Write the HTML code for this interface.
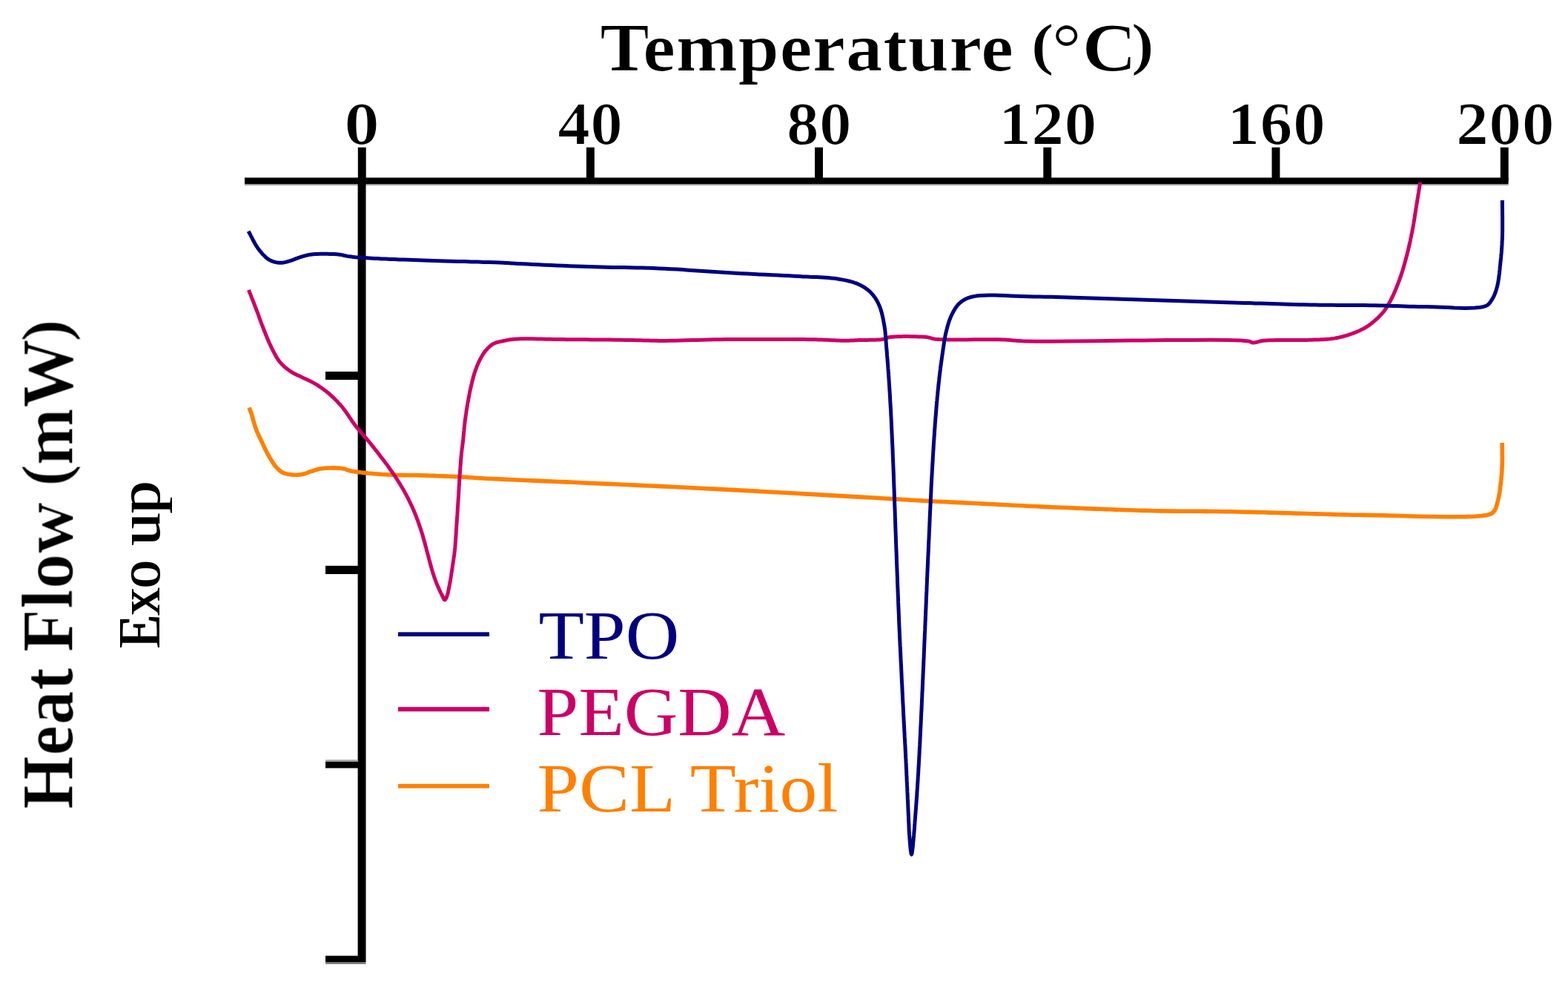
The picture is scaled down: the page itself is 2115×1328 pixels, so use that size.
<!DOCTYPE html>
<html><head><meta charset="utf-8"><title>DSC Heat Flow</title>
<style>
html,body{margin:0;padding:0;background:#fff;}
svg{display:block;}
text{font-family:"Liberation Serif", "Times New Roman", serif;}
</style></head>
<body>
<svg width="2115" height="1328" viewBox="0 0 2115 1328">
<defs><filter id="thin" x="-5%" y="-5%" width="110%" height="110%" color-interpolation-filters="sRGB"><feMorphology operator="erode" radius="1 0"/></filter><filter id="fat1" x="-5%" y="-5%" width="110%" height="110%"><feMorphology operator="dilate" radius="1 0"/></filter></defs>
<rect width="2115" height="1328" fill="#fff"/>
<text y="95" font-size="92" font-weight="bold" filter="url(#thin)"><tspan x="809" textLength="558.5" lengthAdjust="spacingAndGlyphs">Temperature</tspan> <tspan x="1390.2" y="86" font-size="78" textLength="31.8" lengthAdjust="spacingAndGlyphs">(</tspan><tspan x="1418.2" y="95" textLength="115.2" lengthAdjust="spacingAndGlyphs">°C</tspan><tspan x="1525.5" y="86" font-size="78" textLength="31.7" lengthAdjust="spacingAndGlyphs">)</tspan></text>
<g font-size="80" font-weight="bold" filter="url(#thin)">
<text x="488.1" y="194" text-anchor="middle" textLength="48.0" lengthAdjust="spacingAndGlyphs">0</text>
<text x="796.0" y="194" text-anchor="middle" textLength="88.2" lengthAdjust="spacingAndGlyphs">40</text>
<text x="1104.8" y="194" text-anchor="middle" textLength="88.2" lengthAdjust="spacingAndGlyphs">80</text>
<text x="1413.2" y="194" text-anchor="middle" textLength="133.1" lengthAdjust="spacingAndGlyphs">120</text>
<text x="1721.5" y="194" text-anchor="middle" textLength="133.1" lengthAdjust="spacingAndGlyphs">160</text>
<text x="2030.3" y="194" text-anchor="middle" textLength="133.1" lengthAdjust="spacingAndGlyphs">200</text>
</g>
<g>
<rect x="330" y="248" width="1704.6" height="2" fill="#9e9e9e"/>
<rect x="330" y="239.5" width="1704.6" height="8.5" fill="#000"/>
<rect x="482.8" y="198.7" width="10.9" height="45" fill="#000"/>
<rect x="790.9" y="198.7" width="10.9" height="45" fill="#000"/>
<rect x="1099.1" y="198.7" width="10.9" height="45" fill="#000"/>
<rect x="1407.3" y="198.7" width="10.9" height="45" fill="#000"/>
<rect x="1715.5" y="198.7" width="10.9" height="45" fill="#000"/>
<rect x="2023.8" y="198.7" width="10.9" height="45" fill="#000"/>
<rect x="482.6" y="239.5" width="10.9" height="1057.5" fill="#000"/>
<rect x="439" y="1024.3" width="44" height="2.7" fill="#a3a3a3"/>
<rect x="439" y="1297" width="54.5" height="2.8" fill="#777"/>
<rect x="439" y="501.0" width="50" height="11.0" fill="#000"/>
<rect x="439" y="762.8" width="50" height="11.2" fill="#000"/>
<rect x="439" y="1027.0" width="50" height="8.6" fill="#000"/>
<rect x="439" y="1288.6" width="50" height="8.4" fill="#000"/>
</g>
<text transform="translate(97.3 1090.5) rotate(-90)" y="0" font-size="97" font-weight="bold" filter="url(#thin)"><tspan x="-0.8" textLength="191.2" lengthAdjust="spacingAndGlyphs">Heat</tspan> <tspan x="210.9" textLength="202.7" lengthAdjust="spacingAndGlyphs">Flow</tspan> <tspan x="434.6" y="-7" font-size="88.2" textLength="30.3" lengthAdjust="spacingAndGlyphs">(</tspan><tspan x="463.1" y="0" textLength="170.1" lengthAdjust="spacingAndGlyphs">mW</tspan><tspan x="629.5" y="-7" font-size="88.2" textLength="30.8" lengthAdjust="spacingAndGlyphs">)</tspan></text>
<text transform="translate(215 876) rotate(-90)" y="0" font-size="80" filter="url(#fat1)"><tspan x="2.0" textLength="118.3" lengthAdjust="spacingAndGlyphs">Exo</tspan> <tspan x="140.9" textLength="86.2" lengthAdjust="spacingAndGlyphs">up</tspan></text>
<g fill="none" stroke-linejoin="round" stroke-linecap="butt">
<path d="M336.1 549.5 L336.4 550.3 L336.7 551.0 L336.9 551.8 L337.2 552.5 L337.5 553.2 L337.8 554.0 L338.0 554.7 L338.3 555.5 L338.6 556.3 L338.9 557.1 L339.2 558.0 L339.5 558.9 L339.9 560.2 L340.3 561.7 L340.8 563.2 L341.2 564.7 L341.6 566.3 L342.1 568.0 L342.5 569.6 L343.0 571.3 L343.5 573.0 L344.0 574.6 L344.5 576.2 L345.1 577.8 L345.7 579.4 L346.3 581.0 L347.0 582.6 L347.7 584.1 L348.4 585.7 L349.1 587.3 L349.9 588.9 L350.6 590.4 L351.3 592.0 L352.1 593.6 L352.9 595.1 L353.6 596.7 L354.4 598.3 L355.1 599.9 L355.9 601.5 L356.7 603.2 L357.4 604.8 L358.2 606.4 L359.0 608.0 L359.8 609.6 L360.6 611.2 L361.4 612.7 L362.3 614.2 L363.1 615.7 L363.9 617.0 L364.6 618.3 L365.4 619.5 L366.1 620.8 L366.9 622.0 L367.7 623.3 L368.5 624.5 L369.3 625.6 L370.1 626.7 L370.9 627.8 L371.7 628.8 L372.6 629.8 L373.3 630.6 L374.1 631.3 L374.8 632.1 L375.5 632.8 L376.3 633.5 L377.0 634.1 L377.8 634.8 L378.6 635.4 L379.4 635.9 L380.2 636.5 L381.1 636.9 L382.0 637.4 L383.0 637.8 L384.1 638.2 L385.3 638.6 L386.5 638.9 L387.7 639.2 L388.9 639.4 L390.1 639.6 L391.4 639.8 L392.6 639.9 L393.8 640.0 L395.0 640.1 L396.2 640.2 L397.3 640.3 L398.3 640.3 L399.3 640.3 L400.4 640.3 L401.4 640.2 L402.4 640.1 L403.5 640.1 L404.5 639.9 L405.5 639.8 L406.5 639.7 L407.5 639.5 L408.5 639.3 L409.5 639.1 L410.4 638.8 L411.3 638.5 L412.3 638.2 L413.2 637.9 L414.1 637.6 L415.0 637.2 L416.0 636.8 L416.9 636.5 L417.8 636.1 L418.8 635.8 L419.8 635.5 L420.9 635.2 L422.0 634.8 L423.1 634.4 L424.2 634.1 L425.3 633.7 L426.5 633.4 L427.6 633.0 L428.8 632.7 L430.0 632.4 L431.3 632.1 L432.6 631.9 L434.0 631.7 L436.1 631.5 L438.3 631.3 L440.8 631.1 L443.3 631.0 L445.9 631.0 L448.5 630.9 L451.2 630.9 L453.7 631.0 L456.2 631.1 L458.5 631.3 L460.5 631.5 L462.4 631.7 L463.4 631.9 L464.2 632.1 L465.0 632.3 L465.8 632.5 L466.5 632.8 L467.2 633.1 L467.9 633.3 L468.6 633.6 L469.3 633.9 L470.1 634.1 L470.9 634.4 L471.8 634.6 L473.1 634.9 L474.5 635.2 L475.9 635.4 L477.4 635.7 L478.9 635.9 L480.5 636.1 L482.1 636.4 L483.7 636.6 L485.4 636.8 L487.2 637.0 L489.0 637.2 L490.8 637.4 L493.5 637.7 L496.3 638.0 L499.3 638.2 L502.4 638.5 L505.5 638.8 L508.7 639.0 L512.0 639.2 L515.3 639.5 L518.7 639.7 L522.0 639.9 L525.3 640.0 L528.6 640.2 L532.0 640.3 L535.5 640.5 L539.0 640.5 L542.5 640.6 L546.0 640.6 L549.5 640.7 L553.0 640.7 L556.6 640.7 L560.2 640.8 L563.8 640.8 L567.5 640.9 L571.2 641.0 L575.4 641.1 L579.7 641.3 L584.1 641.4 L588.5 641.6 L593.0 641.7 L597.5 641.9 L602.0 642.1 L606.4 642.3 L610.7 642.4 L614.8 642.6 L618.8 642.8 L622.5 643.0 L625.0 643.1 L627.4 643.3 L629.5 643.4 L631.6 643.6 L633.6 643.7 L635.6 643.9 L637.6 644.0 L639.8 644.2 L642.0 644.3 L644.4 644.5 L647.1 644.6 L650.0 644.8 L656.8 645.2 L664.4 645.5 L672.9 645.9 L682.1 646.4 L691.8 646.8 L701.9 647.2 L712.3 647.7 L722.8 648.1 L733.3 648.6 L743.7 649.0 L753.8 649.5 L763.5 649.9 L773.0 650.3 L782.4 650.7 L791.9 651.2 L801.3 651.6 L810.8 652.0 L820.3 652.4 L829.7 652.8 L839.2 653.3 L848.6 653.7 L858.1 654.1 L867.5 654.6 L877.0 655.0 L886.5 655.4 L895.9 655.9 L905.4 656.3 L914.8 656.8 L924.3 657.3 L933.7 657.7 L943.2 658.2 L952.6 658.7 L962.0 659.1 L971.5 659.6 L980.9 660.1 L990.4 660.6 L999.9 661.1 L1009.4 661.6 L1019.0 662.1 L1028.5 662.7 L1038.1 663.2 L1047.6 663.7 L1057.1 664.3 L1066.6 664.8 L1076.1 665.3 L1085.4 665.9 L1094.7 666.4 L1103.9 666.9 L1112.5 667.4 L1121.3 667.9 L1130.1 668.4 L1138.9 668.9 L1147.6 669.4 L1156.3 669.9 L1164.8 670.4 L1173.1 670.8 L1181.1 671.3 L1188.9 671.8 L1196.2 672.2 L1203.2 672.6 L1207.7 672.9 L1211.9 673.1 L1215.9 673.4 L1219.7 673.6 L1223.5 673.8 L1227.1 674.1 L1230.7 674.3 L1234.4 674.5 L1238.1 674.7 L1241.9 674.9 L1245.8 675.2 L1250.0 675.4 L1255.3 675.7 L1260.7 676.0 L1266.3 676.2 L1271.9 676.5 L1277.7 676.8 L1283.6 677.1 L1289.5 677.4 L1295.4 677.6 L1301.4 677.9 L1307.4 678.2 L1313.4 678.5 L1319.4 678.8 L1325.8 679.1 L1332.3 679.5 L1338.9 679.8 L1345.5 680.1 L1352.1 680.5 L1358.8 680.8 L1365.5 681.2 L1372.2 681.5 L1378.9 681.8 L1385.6 682.2 L1392.3 682.5 L1398.9 682.8 L1405.5 683.1 L1412.1 683.4 L1418.8 683.7 L1425.4 684.0 L1432.0 684.3 L1438.6 684.5 L1445.2 684.8 L1451.8 685.1 L1458.4 685.3 L1465.1 685.6 L1471.7 685.9 L1478.3 686.1 L1484.9 686.3 L1491.4 686.6 L1497.9 686.8 L1504.4 687.1 L1510.9 687.3 L1517.4 687.5 L1523.9 687.8 L1530.5 688.0 L1537.1 688.2 L1543.9 688.4 L1550.7 688.5 L1557.7 688.7 L1565.8 688.9 L1574.0 689.0 L1582.4 689.1 L1590.8 689.2 L1599.4 689.2 L1608.0 689.3 L1616.7 689.3 L1625.4 689.4 L1634.1 689.5 L1642.8 689.5 L1651.4 689.7 L1660.0 689.8 L1668.6 690.0 L1677.4 690.2 L1686.2 690.4 L1695.0 690.6 L1703.9 690.8 L1712.7 691.1 L1721.4 691.3 L1730.1 691.6 L1738.7 691.8 L1747.1 692.1 L1755.3 692.3 L1763.4 692.5 L1770.0 692.7 L1776.4 692.9 L1782.5 693.0 L1788.4 693.2 L1794.3 693.4 L1800.1 693.6 L1806.1 693.7 L1812.1 693.9 L1818.4 694.0 L1824.9 694.2 L1831.8 694.3 L1839.1 694.4 L1851.4 694.6 L1865.5 694.9 L1881.0 695.3 L1897.4 695.8 L1914.3 696.2 L1931.1 696.5 L1947.5 696.7 L1962.9 696.7 L1976.9 696.6 L1988.9 696.2 L1998.6 695.5 L2005.5 694.4 L2006.8 694.1 L2007.9 693.8 L2008.9 693.5 L2009.8 693.2 L2010.6 692.9 L2011.3 692.6 L2011.9 692.2 L2012.6 691.8 L2013.2 691.4 L2013.7 690.9 L2014.3 690.3 L2014.9 689.7 L2015.6 688.8 L2016.3 687.8 L2016.8 686.7 L2017.4 685.5 L2017.9 684.3 L2018.3 683.0 L2018.7 681.6 L2019.1 680.2 L2019.5 678.8 L2019.9 677.4 L2020.2 675.9 L2020.6 674.5 L2021.0 672.8 L2021.4 671.0 L2021.8 669.2 L2022.1 667.3 L2022.5 665.4 L2022.8 663.5 L2023.1 661.6 L2023.3 659.6 L2023.6 657.7 L2023.8 655.7 L2024.1 653.7 L2024.3 651.8 L2024.5 649.8 L2024.8 647.8 L2025.0 645.8 L2025.1 643.8 L2025.3 641.8 L2025.5 639.8 L2025.6 637.7 L2025.8 635.7 L2025.9 633.6 L2026.0 631.5 L2026.1 629.4 L2026.2 627.3 L2026.3 624.9 L2026.3 622.4 L2026.4 620.0 L2026.4 617.4 L2026.4 614.9 L2026.3 612.4 L2026.3 609.8 L2026.3 607.2 L2026.3 604.7 L2026.2 602.1 L2026.2 599.5 L2026.2 597.0" stroke="#ff8000" stroke-width="5.6"/>
<path d="M335.4 390.8 L336.2 392.9 L337.0 395.0 L337.9 397.1 L338.7 399.2 L339.5 401.3 L340.3 403.3 L341.2 405.4 L342.0 407.5 L342.8 409.7 L343.6 411.8 L344.5 413.9 L345.3 416.1 L346.2 418.4 L347.1 420.8 L348.0 423.2 L348.9 425.7 L349.7 428.1 L350.6 430.6 L351.5 433.0 L352.4 435.5 L353.3 437.9 L354.3 440.3 L355.2 442.7 L356.1 445.0 L357.0 447.2 L357.9 449.4 L358.7 451.6 L359.6 453.8 L360.5 455.9 L361.4 458.1 L362.3 460.2 L363.2 462.3 L364.2 464.4 L365.1 466.4 L366.0 468.4 L367.0 470.3 L367.8 472.0 L368.7 473.6 L369.5 475.2 L370.3 476.8 L371.2 478.4 L372.0 479.9 L372.9 481.4 L373.8 482.9 L374.8 484.3 L375.7 485.7 L376.7 487.1 L377.8 488.4 L378.9 489.6 L380.0 490.8 L381.1 492.0 L382.3 493.1 L383.5 494.2 L384.7 495.3 L386.0 496.3 L387.2 497.3 L388.5 498.3 L389.8 499.2 L391.0 500.1 L392.3 501.0 L393.5 501.7 L394.6 502.4 L395.8 503.1 L397.0 503.7 L398.1 504.3 L399.3 504.9 L400.5 505.4 L401.7 506.0 L403.0 506.5 L404.2 507.1 L405.4 507.7 L406.7 508.3 L408.1 509.0 L409.6 509.7 L411.1 510.4 L412.6 511.1 L414.1 511.8 L415.7 512.6 L417.2 513.3 L418.7 514.0 L420.3 514.8 L421.8 515.6 L423.3 516.4 L424.8 517.3 L426.3 518.2 L427.9 519.2 L429.4 520.1 L430.9 521.1 L432.5 522.2 L434.0 523.2 L435.5 524.3 L437.0 525.4 L438.5 526.5 L440.0 527.6 L441.4 528.8 L442.9 530.0 L444.5 531.3 L446.0 532.7 L447.5 534.1 L449.1 535.5 L450.6 536.9 L452.1 538.4 L453.6 539.9 L455.1 541.5 L456.5 543.1 L458.0 544.7 L459.5 546.3 L460.9 548.0 L462.5 549.9 L464.0 551.9 L465.6 554.0 L467.1 556.2 L468.6 558.3 L470.1 560.5 L471.5 562.7 L473.0 564.9 L474.5 567.1 L476.0 569.2 L477.5 571.3 L479.0 573.3 L480.4 575.1 L481.8 576.8 L483.2 578.5 L484.7 580.2 L486.1 581.9 L487.5 583.5 L488.9 585.2 L490.3 586.8 L491.7 588.4 L493.1 590.0 L494.5 591.6 L495.8 593.2 L497.0 594.6 L498.1 596.1 L499.3 597.4 L500.4 598.8 L501.5 600.2 L502.6 601.6 L503.7 602.9 L504.8 604.3 L505.9 605.7 L507.0 607.1 L508.2 608.5 L509.3 610.0 L510.5 611.6 L511.8 613.2 L513.1 614.9 L514.3 616.5 L515.6 618.2 L516.9 619.9 L518.2 621.5 L519.4 623.2 L520.7 624.9 L522.0 626.6 L523.2 628.3 L524.4 630.0 L525.6 631.7 L526.7 633.3 L527.9 635.0 L529.1 636.6 L530.2 638.3 L531.3 639.9 L532.5 641.6 L533.6 643.3 L534.7 645.0 L535.8 646.6 L536.8 648.3 L537.9 650.0 L538.9 651.6 L539.9 653.3 L540.9 655.0 L541.9 656.6 L542.9 658.3 L543.9 659.9 L544.8 661.6 L545.8 663.3 L546.7 665.0 L547.6 666.6 L548.5 668.3 L549.4 670.0 L550.3 671.7 L551.1 673.3 L551.9 675.0 L552.7 676.6 L553.5 678.3 L554.3 680.0 L555.1 681.6 L555.9 683.3 L556.6 685.0 L557.4 686.6 L558.1 688.3 L558.8 690.0 L559.5 691.7 L560.2 693.3 L560.8 695.0 L561.5 696.6 L562.1 698.3 L562.7 700.0 L563.4 701.6 L564.0 703.3 L564.6 705.0 L565.1 706.7 L565.7 708.3 L566.3 710.0 L566.9 711.7 L567.4 713.3 L567.9 715.0 L568.5 716.6 L569.0 718.3 L569.5 720.0 L570.0 721.6 L570.5 723.3 L571.0 725.0 L571.4 726.7 L571.9 728.3 L572.4 730.0 L572.9 731.7 L573.3 733.3 L573.8 735.0 L574.2 736.7 L574.7 738.3 L575.1 740.0 L575.5 741.7 L575.9 743.3 L576.4 745.0 L576.8 746.7 L577.3 748.3 L577.7 750.0 L578.2 751.7 L578.6 753.4 L579.1 755.1 L579.5 756.8 L580.0 758.5 L580.4 760.2 L580.9 761.9 L581.3 763.6 L581.8 765.2 L582.3 766.8 L582.7 768.4 L583.2 770.0 L583.6 771.3 L584.0 772.7 L584.4 774.0 L584.9 775.2 L585.3 776.5 L585.7 777.8 L586.1 779.0 L586.5 780.2 L587.0 781.4 L587.4 782.6 L587.9 783.8 L588.3 785.0 L588.7 786.1 L589.1 787.1 L589.6 788.2 L590.0 789.2 L590.5 790.3 L590.9 791.3 L591.4 792.3 L591.8 793.3 L592.2 794.3 L592.7 795.2 L593.1 796.1 L593.5 797.0 L593.8 797.7 L594.1 798.3 L594.4 798.9 L594.7 799.5 L595.0 800.1 L595.3 800.7 L595.6 801.3 L595.9 801.8 L596.1 802.4 L596.4 802.9 L596.7 803.5 L597.0 804.0 L597.2 804.5 L597.5 805.0 L597.7 805.5 L597.9 806.0 L598.2 806.6 L598.4 807.1 L598.6 807.5 L598.9 807.9 L599.1 808.3 L599.3 808.6 L599.6 808.7 L599.8 808.8 L600.0 808.7 L600.3 808.6 L600.6 808.4 L600.8 808.0 L601.1 807.6 L601.3 807.2 L601.6 806.7 L601.8 806.2 L602.1 805.6 L602.3 805.1 L602.6 804.5 L602.8 804.0 L603.1 803.1 L603.4 802.2 L603.7 801.2 L604.0 800.2 L604.3 799.1 L604.5 798.0 L604.8 796.8 L605.0 795.6 L605.3 794.3 L605.5 793.1 L605.7 791.8 L606.0 790.5 L606.4 788.7 L606.7 786.8 L607.1 784.8 L607.4 782.8 L607.8 780.7 L608.1 778.5 L608.5 776.4 L608.8 774.2 L609.1 772.0 L609.5 769.8 L609.8 767.7 L610.1 765.6 L610.4 763.5 L610.7 761.5 L611.0 759.5 L611.3 757.5 L611.6 755.5 L611.9 753.4 L612.2 751.4 L612.5 749.3 L612.8 747.3 L613.0 745.1 L613.3 743.0 L613.5 740.8 L613.8 738.2 L614.0 735.6 L614.2 732.9 L614.4 730.2 L614.6 727.5 L614.8 724.7 L615.0 721.9 L615.2 719.1 L615.3 716.3 L615.5 713.4 L615.7 710.6 L615.9 707.7 L616.1 704.6 L616.3 701.4 L616.5 698.2 L616.8 695.0 L617.0 691.7 L617.2 688.5 L617.4 685.2 L617.6 682.0 L617.8 678.8 L618.0 675.7 L618.2 672.6 L618.4 669.6 L618.6 667.1 L618.7 664.7 L618.8 662.3 L619.0 659.9 L619.1 657.6 L619.2 655.3 L619.4 653.0 L619.5 650.8 L619.6 648.5 L619.8 646.1 L619.9 643.8 L620.1 641.4 L620.3 638.8 L620.5 636.1 L620.7 633.3 L620.9 630.6 L621.1 627.8 L621.3 625.0 L621.5 622.2 L621.7 619.5 L621.9 616.9 L622.2 614.4 L622.4 612.1 L622.6 609.9 L622.7 608.6 L622.9 607.3 L623.0 606.1 L623.2 605.0 L623.3 603.9 L623.5 602.8 L623.6 601.8 L623.8 600.7 L623.9 599.6 L624.1 598.4 L624.2 597.2 L624.4 595.9 L624.6 594.0 L624.8 591.9 L625.0 589.7 L625.2 587.5 L625.4 585.2 L625.6 582.9 L625.9 580.5 L626.1 578.2 L626.3 575.8 L626.6 573.4 L626.8 571.1 L627.1 568.8 L627.4 566.5 L627.7 564.3 L628.0 562.0 L628.3 559.7 L628.7 557.4 L629.0 555.1 L629.3 552.8 L629.7 550.6 L630.1 548.3 L630.4 546.1 L630.8 543.9 L631.2 541.7 L631.6 539.7 L631.9 537.7 L632.3 535.7 L632.7 533.7 L633.1 531.8 L633.4 529.8 L633.8 527.9 L634.2 526.0 L634.6 524.1 L635.1 522.2 L635.5 520.4 L635.9 518.6 L636.3 517.0 L636.6 515.5 L637.0 514.0 L637.4 512.5 L637.8 511.0 L638.2 509.5 L638.5 508.1 L638.9 506.6 L639.4 505.2 L639.8 503.8 L640.2 502.4 L640.7 501.0 L641.1 499.7 L641.6 498.4 L642.1 497.1 L642.6 495.8 L643.0 494.6 L643.5 493.3 L644.1 492.1 L644.6 490.9 L645.1 489.6 L645.7 488.4 L646.2 487.3 L646.8 486.1 L647.4 485.0 L647.9 483.9 L648.5 482.9 L649.0 481.8 L649.6 480.8 L650.2 479.8 L650.8 478.7 L651.4 477.7 L652.1 476.8 L652.8 475.8 L653.5 474.8 L654.2 473.9 L655.0 472.9 L655.8 472.0 L656.6 471.0 L657.5 470.1 L658.3 469.2 L659.2 468.3 L660.2 467.4 L661.1 466.6 L662.1 465.8 L663.1 465.0 L664.1 464.3 L665.1 463.7 L666.1 463.2 L667.2 462.7 L668.2 462.3 L669.3 461.9 L670.4 461.5 L671.6 461.2 L672.7 461.0 L673.9 460.7 L675.1 460.4 L676.2 460.2 L677.4 460.0 L678.6 459.7 L679.9 459.4 L681.1 459.2 L682.3 458.9 L683.5 458.7 L684.7 458.4 L686.0 458.2 L687.2 458.0 L688.6 457.8 L690.0 457.7 L691.5 457.5 L693.2 457.3 L694.9 457.2 L698.8 457.0 L703.1 456.8 L707.9 456.8 L713.0 456.8 L718.4 456.8 L724.1 456.9 L729.9 457.0 L735.9 457.2 L742.0 457.3 L748.0 457.4 L754.1 457.5 L760.0 457.6 L767.1 457.7 L774.6 457.7 L782.3 457.8 L790.2 457.8 L798.2 457.9 L806.2 458.0 L814.2 458.1 L822.0 458.1 L829.5 458.2 L836.8 458.3 L843.6 458.4 L850.0 458.5 L854.0 458.6 L857.7 458.7 L861.3 458.8 L864.6 458.8 L867.9 458.9 L871.0 459.0 L874.2 459.1 L877.5 459.2 L880.8 459.3 L884.3 459.3 L888.0 459.4 L892.0 459.4 L898.1 459.4 L904.5 459.3 L911.2 459.2 L918.1 459.0 L925.3 458.8 L932.6 458.6 L940.1 458.4 L947.8 458.2 L955.5 458.0 L963.3 457.8 L971.1 457.7 L979.0 457.6 L988.6 457.5 L998.8 457.5 L1009.4 457.4 L1020.3 457.4 L1031.3 457.4 L1042.3 457.4 L1053.2 457.4 L1063.8 457.4 L1073.9 457.5 L1083.4 457.6 L1092.1 457.7 L1100.0 457.8 L1104.1 457.9 L1108.1 458.0 L1111.8 458.2 L1115.4 458.3 L1118.9 458.5 L1122.2 458.7 L1125.4 458.8 L1128.5 459.0 L1131.5 459.1 L1134.4 459.2 L1137.2 459.3 L1140.0 459.3 L1141.9 459.3 L1143.7 459.3 L1145.4 459.2 L1147.0 459.1 L1148.6 459.1 L1150.2 459.0 L1151.7 458.9 L1153.3 458.8 L1154.9 458.7 L1156.5 458.7 L1158.2 458.6 L1160.0 458.5 L1162.3 458.4 L1164.8 458.4 L1167.5 458.4 L1170.2 458.4 L1172.9 458.3 L1175.6 458.3 L1178.4 458.3 L1181.0 458.2 L1183.5 458.1 L1185.9 458.0 L1188.1 457.8 L1190.0 457.5 L1191.0 457.3 L1191.9 457.1 L1192.7 456.9 L1193.5 456.6 L1194.2 456.3 L1194.9 456.0 L1195.6 455.8 L1196.3 455.5 L1197.1 455.2 L1197.9 455.0 L1198.9 454.8 L1200.0 454.6 L1202.9 454.3 L1206.5 454.0 L1210.6 453.8 L1215.1 453.7 L1219.8 453.6 L1224.7 453.6 L1229.7 453.7 L1234.5 453.8 L1239.0 453.9 L1243.2 454.1 L1246.9 454.3 L1250.0 454.6 L1251.3 454.8 L1252.4 454.9 L1253.3 455.2 L1254.2 455.4 L1255.0 455.6 L1255.8 455.9 L1256.6 456.1 L1257.5 456.4 L1258.4 456.6 L1259.4 456.8 L1260.6 457.0 L1262.0 457.2 L1266.7 457.6 L1272.8 457.8 L1279.9 457.9 L1287.8 458.0 L1296.3 458.0 L1305.1 457.9 L1314.1 457.8 L1323.0 457.7 L1331.5 457.7 L1339.4 457.7 L1346.5 457.7 L1352.6 457.9 L1355.5 458.0 L1358.1 458.2 L1360.3 458.3 L1362.4 458.5 L1364.4 458.7 L1366.3 458.9 L1368.3 459.1 L1370.4 459.3 L1372.8 459.4 L1375.4 459.6 L1378.4 459.8 L1381.9 459.9 L1397.4 460.2 L1419.2 460.2 L1445.8 460.0 L1476.0 459.7 L1508.4 459.3 L1541.6 458.9 L1574.4 458.6 L1605.3 458.4 L1633.1 458.3 L1656.3 458.5 L1673.7 459.0 L1683.9 459.9 L1684.7 460.1 L1685.4 460.3 L1686.0 460.5 L1686.5 460.7 L1686.9 460.9 L1687.3 461.1 L1687.6 461.3 L1688.0 461.5 L1688.3 461.7 L1688.8 461.8 L1689.2 461.9 L1689.8 462.0 L1690.8 462.0 L1691.7 461.9 L1692.7 461.8 L1693.8 461.6 L1694.9 461.3 L1696.1 461.0 L1697.3 460.7 L1698.5 460.4 L1699.9 460.0 L1701.3 459.7 L1702.8 459.5 L1704.4 459.3 L1708.0 459.0 L1712.1 458.8 L1716.6 458.7 L1721.6 458.6 L1726.8 458.6 L1732.2 458.6 L1737.6 458.6 L1743.1 458.6 L1748.5 458.6 L1753.6 458.6 L1758.5 458.5 L1763.0 458.4 L1766.3 458.3 L1769.5 458.2 L1772.6 458.1 L1775.7 458.0 L1778.7 457.9 L1781.6 457.8 L1784.5 457.7 L1787.4 457.5 L1790.1 457.3 L1792.9 457.1 L1795.6 456.8 L1798.2 456.4 L1800.3 456.1 L1802.4 455.7 L1804.5 455.3 L1806.5 454.9 L1808.4 454.4 L1810.3 454.0 L1812.3 453.5 L1814.1 452.9 L1816.0 452.4 L1817.9 451.8 L1819.8 451.2 L1821.7 450.5 L1823.6 449.8 L1825.6 449.1 L1827.5 448.3 L1829.5 447.6 L1831.4 446.8 L1833.3 445.9 L1835.3 445.0 L1837.1 444.1 L1839.0 443.2 L1840.8 442.2 L1842.6 441.1 L1844.4 440.0 L1846.2 438.8 L1847.9 437.5 L1849.7 436.2 L1851.4 434.8 L1853.2 433.4 L1854.8 431.9 L1856.5 430.4 L1858.1 429.0 L1859.6 427.5 L1861.0 426.0 L1862.4 424.6 L1863.7 423.2 L1864.6 422.2 L1865.5 421.2 L1866.3 420.2 L1867.0 419.2 L1867.7 418.2 L1868.4 417.2 L1869.1 416.3 L1869.8 415.3 L1870.4 414.2 L1871.1 413.2 L1871.7 412.1 L1872.4 411.0 L1873.2 409.7 L1873.9 408.3 L1874.7 407.0 L1875.5 405.6 L1876.2 404.1 L1876.9 402.7 L1877.6 401.2 L1878.4 399.7 L1879.1 398.2 L1879.8 396.7 L1880.5 395.1 L1881.2 393.5 L1882.0 391.6 L1882.8 389.7 L1883.6 387.7 L1884.4 385.7 L1885.2 383.7 L1886.0 381.6 L1886.8 379.5 L1887.6 377.4 L1888.3 375.3 L1889.1 373.2 L1889.8 371.1 L1890.5 369.0 L1891.2 366.9 L1891.9 364.7 L1892.5 362.6 L1893.2 360.4 L1893.8 358.3 L1894.4 356.1 L1895.0 353.9 L1895.6 351.7 L1896.2 349.5 L1896.8 347.2 L1897.4 345.0 L1898.0 342.7 L1898.6 340.2 L1899.3 337.6 L1899.9 335.0 L1900.5 332.4 L1901.1 329.8 L1901.7 327.2 L1902.3 324.5 L1902.8 321.8 L1903.4 319.2 L1903.9 316.5 L1904.5 313.8 L1905.0 311.2 L1905.5 308.6 L1906.0 305.9 L1906.4 303.2 L1906.9 300.6 L1907.3 297.9 L1907.8 295.2 L1908.2 292.6 L1908.6 289.9 L1909.0 287.3 L1909.4 284.7 L1909.8 282.2 L1910.2 279.7 L1910.6 277.5 L1910.9 275.3 L1911.3 273.0 L1911.7 270.8 L1912.0 268.6 L1912.4 266.4 L1912.7 264.3 L1913.0 262.2 L1913.4 260.2 L1913.7 258.4 L1913.9 256.6 L1914.2 255.0 L1914.3 254.1 L1914.5 253.2 L1914.6 252.4 L1914.7 251.7 L1914.8 250.9 L1914.9 250.2 L1915.1 249.5 L1915.2 248.8 L1915.3 248.1 L1915.4 247.4 L1915.5 246.7 L1915.6 246.0" stroke="#cc0066" stroke-width="5"/>
<path d="M335.1 311.7 L336.2 313.7 L337.3 315.7 L338.3 317.8 L339.4 319.9 L340.4 321.9 L341.5 324.0 L342.6 326.0 L343.7 328.0 L344.8 330.0 L346.0 331.9 L347.2 333.7 L348.4 335.4 L349.5 336.9 L350.7 338.4 L351.9 339.8 L353.1 341.3 L354.3 342.7 L355.6 344.0 L356.9 345.3 L358.1 346.5 L359.5 347.7 L360.8 348.7 L362.1 349.7 L363.5 350.5 L364.7 351.1 L365.9 351.7 L367.2 352.2 L368.4 352.6 L369.7 353.0 L371.0 353.4 L372.3 353.6 L373.6 353.9 L374.8 354.0 L376.1 354.2 L377.4 354.3 L378.6 354.3 L379.7 354.3 L380.9 354.2 L382.0 354.1 L383.1 353.9 L384.2 353.7 L385.3 353.4 L386.4 353.1 L387.4 352.8 L388.5 352.5 L389.6 352.1 L390.7 351.8 L391.8 351.5 L392.9 351.2 L394.0 350.8 L395.1 350.4 L396.2 350.0 L397.3 349.6 L398.3 349.1 L399.4 348.7 L400.5 348.3 L401.6 347.9 L402.7 347.4 L403.9 347.1 L405.0 346.7 L406.2 346.3 L407.4 346.0 L408.5 345.6 L409.7 345.3 L410.9 344.9 L412.1 344.6 L413.3 344.3 L414.6 344.0 L415.9 343.7 L417.3 343.4 L418.7 343.2 L420.2 343.0 L422.7 342.7 L425.5 342.5 L428.4 342.4 L431.6 342.3 L434.8 342.3 L438.1 342.3 L441.5 342.3 L444.7 342.4 L447.9 342.5 L450.8 342.6 L453.6 342.8 L456.1 343.0 L457.6 343.2 L458.9 343.3 L460.2 343.6 L461.4 343.8 L462.5 344.0 L463.6 344.3 L464.7 344.6 L465.9 344.8 L467.1 345.1 L468.4 345.4 L469.7 345.6 L471.2 345.8 L473.7 346.1 L476.4 346.4 L479.1 346.7 L482.0 346.9 L485.1 347.1 L488.2 347.4 L491.5 347.6 L494.8 347.8 L498.2 348.0 L501.7 348.2 L505.3 348.4 L509.0 348.6 L514.4 348.9 L520.0 349.1 L525.9 349.4 L532.0 349.6 L538.3 349.9 L544.7 350.1 L551.2 350.3 L557.9 350.5 L564.6 350.7 L571.3 351.0 L578.0 351.2 L584.7 351.4 L592.4 351.7 L600.6 351.9 L609.2 352.2 L618.0 352.4 L626.8 352.6 L635.6 352.9 L644.1 353.1 L652.4 353.4 L660.1 353.6 L667.3 353.8 L673.7 354.1 L679.2 354.3 L681.4 354.4 L683.4 354.5 L685.1 354.6 L686.7 354.7 L688.2 354.8 L689.6 354.9 L691.0 355.0 L692.5 355.1 L694.1 355.2 L695.8 355.3 L697.8 355.4 L700.0 355.5 L705.5 355.8 L711.8 356.1 L718.8 356.4 L726.5 356.8 L734.6 357.2 L743.0 357.5 L751.7 357.9 L760.5 358.3 L769.3 358.7 L778.0 359.0 L786.5 359.3 L794.6 359.6 L802.5 359.8 L810.4 360.0 L818.2 360.2 L826.1 360.4 L834.0 360.5 L841.9 360.6 L849.7 360.8 L857.6 360.9 L865.5 361.1 L873.4 361.3 L881.2 361.6 L889.1 361.9 L897.0 362.3 L904.9 362.7 L912.8 363.1 L920.6 363.6 L928.5 364.2 L936.4 364.7 L944.3 365.2 L952.2 365.8 L960.0 366.3 L967.9 366.8 L975.8 367.3 L983.7 367.8 L991.7 368.2 L999.8 368.7 L1008.0 369.1 L1016.3 369.5 L1024.6 369.9 L1032.9 370.3 L1041.0 370.7 L1049.0 371.1 L1056.7 371.5 L1064.2 371.8 L1071.5 372.2 L1078.3 372.6 L1083.1 372.9 L1087.8 373.1 L1092.3 373.3 L1096.8 373.4 L1101.1 373.6 L1105.3 373.8 L1109.5 374.0 L1113.5 374.2 L1117.4 374.5 L1121.2 374.9 L1125.0 375.3 L1128.6 375.8 L1131.3 376.2 L1134.0 376.7 L1136.6 377.1 L1139.1 377.6 L1141.6 378.1 L1144.0 378.7 L1146.3 379.2 L1148.6 379.9 L1150.9 380.5 L1153.0 381.3 L1155.2 382.0 L1157.2 382.9 L1158.9 383.7 L1160.5 384.4 L1162.1 385.3 L1163.6 386.1 L1165.1 387.0 L1166.5 387.9 L1168.0 388.9 L1169.3 389.9 L1170.7 390.9 L1171.9 392.0 L1173.2 393.1 L1174.4 394.3 L1175.6 395.5 L1176.7 396.8 L1177.8 398.0 L1178.8 399.4 L1179.8 400.7 L1180.8 402.2 L1181.7 403.6 L1182.6 405.1 L1183.4 406.6 L1184.3 408.2 L1185.0 409.8 L1185.8 411.5 L1186.7 413.6 L1187.5 415.7 L1188.2 418.0 L1188.9 420.3 L1189.5 422.7 L1190.1 425.2 L1190.7 427.7 L1191.2 430.1 L1191.7 432.6 L1192.1 435.1 L1192.6 437.6 L1193.0 440.0 L1193.4 442.4 L1193.7 444.7 L1194.0 447.0 L1194.2 449.3 L1194.4 451.6 L1194.6 454.0 L1194.8 456.3 L1195.0 458.7 L1195.1 461.1 L1195.3 463.6 L1195.5 466.1 L1195.7 468.7 L1196.0 472.0 L1196.3 475.3 L1196.5 478.7 L1196.8 482.1 L1197.1 485.7 L1197.4 489.2 L1197.7 492.8 L1197.9 496.5 L1198.2 500.2 L1198.5 504.0 L1198.7 507.8 L1199.0 511.6 L1199.3 516.1 L1199.6 520.7 L1199.9 525.4 L1200.2 530.2 L1200.5 535.0 L1200.7 539.8 L1201.0 544.7 L1201.3 549.6 L1201.6 554.5 L1201.8 559.3 L1202.1 564.1 L1202.3 568.8 L1202.5 573.2 L1202.7 577.6 L1202.9 581.9 L1203.1 586.2 L1203.3 590.5 L1203.5 594.8 L1203.7 599.1 L1203.9 603.4 L1204.1 607.7 L1204.2 612.1 L1204.4 616.5 L1204.6 621.0 L1204.8 625.9 L1205.0 630.8 L1205.2 635.8 L1205.4 640.8 L1205.5 645.8 L1205.7 650.9 L1205.9 655.9 L1206.1 661.0 L1206.3 666.1 L1206.4 671.2 L1206.6 676.2 L1206.8 681.2 L1207.0 686.1 L1207.2 691.0 L1207.3 696.0 L1207.5 700.9 L1207.7 705.8 L1207.8 710.7 L1208.0 715.6 L1208.2 720.4 L1208.4 725.3 L1208.5 730.2 L1208.7 735.1 L1208.9 740.0 L1209.1 744.9 L1209.3 749.8 L1209.4 754.6 L1209.6 759.5 L1209.8 764.4 L1210.0 769.3 L1210.2 774.2 L1210.4 779.1 L1210.5 783.9 L1210.7 788.7 L1210.9 793.5 L1211.1 798.3 L1211.3 802.9 L1211.5 807.4 L1211.6 811.9 L1211.8 816.3 L1212.0 820.8 L1212.2 825.3 L1212.4 829.7 L1212.5 834.1 L1212.7 838.6 L1212.9 843.1 L1213.1 847.5 L1213.3 852.0 L1213.5 856.5 L1213.7 861.1 L1213.9 865.6 L1214.1 870.2 L1214.4 874.7 L1214.6 879.3 L1214.8 883.9 L1215.0 888.4 L1215.2 893.0 L1215.5 897.5 L1215.7 902.1 L1215.9 906.6 L1216.1 911.1 L1216.3 915.5 L1216.5 920.0 L1216.8 924.4 L1217.0 928.9 L1217.2 933.3 L1217.4 937.7 L1217.6 942.2 L1217.8 946.6 L1218.1 951.1 L1218.3 955.5 L1218.5 960.0 L1218.7 964.6 L1219.0 969.2 L1219.2 974.0 L1219.5 978.7 L1219.7 983.4 L1220.0 988.2 L1220.2 992.9 L1220.5 997.5 L1220.7 1002.0 L1221.0 1006.4 L1221.2 1010.8 L1221.4 1014.9 L1221.6 1018.1 L1221.7 1021.2 L1221.9 1024.2 L1222.0 1027.2 L1222.2 1030.1 L1222.3 1032.9 L1222.4 1035.8 L1222.6 1038.6 L1222.7 1041.4 L1222.8 1044.2 L1223.0 1047.1 L1223.1 1050.0 L1223.2 1052.9 L1223.4 1055.9 L1223.5 1058.9 L1223.7 1061.9 L1223.8 1064.9 L1223.9 1067.9 L1224.1 1070.8 L1224.2 1073.8 L1224.3 1076.7 L1224.5 1079.5 L1224.6 1082.3 L1224.7 1085.0 L1224.8 1087.3 L1224.9 1089.5 L1225.0 1091.7 L1225.1 1093.9 L1225.2 1096.0 L1225.3 1098.2 L1225.4 1100.2 L1225.5 1102.3 L1225.5 1104.3 L1225.6 1106.2 L1225.7 1108.2 L1225.8 1110.0 L1225.9 1111.4 L1225.9 1112.7 L1226.0 1113.9 L1226.0 1115.1 L1226.0 1116.3 L1226.1 1117.5 L1226.1 1118.6 L1226.2 1119.8 L1226.2 1121.0 L1226.3 1122.3 L1226.4 1123.6 L1226.5 1125.0 L1226.7 1127.1 L1226.9 1129.7 L1227.1 1132.5 L1227.3 1135.4 L1227.6 1138.4 L1227.8 1141.4 L1228.1 1144.2 L1228.4 1146.7 L1228.7 1148.9 L1229.0 1150.5 L1229.2 1151.6 L1229.5 1152.0 L1229.8 1151.6 L1230.1 1150.3 L1230.4 1148.4 L1230.7 1145.9 L1231.1 1143.1 L1231.4 1139.9 L1231.7 1136.6 L1232.0 1133.2 L1232.3 1130.0 L1232.6 1126.9 L1232.8 1124.2 L1233.0 1122.0 L1233.1 1120.8 L1233.2 1119.7 L1233.3 1118.7 L1233.4 1117.8 L1233.4 1116.8 L1233.5 1115.9 L1233.6 1115.0 L1233.6 1114.1 L1233.7 1113.2 L1233.7 1112.2 L1233.8 1111.1 L1233.9 1110.0 L1234.0 1108.2 L1234.2 1106.4 L1234.3 1104.5 L1234.5 1102.5 L1234.6 1100.4 L1234.8 1098.3 L1235.0 1096.1 L1235.1 1094.0 L1235.3 1091.7 L1235.5 1089.5 L1235.6 1087.2 L1235.8 1085.0 L1236.0 1082.4 L1236.2 1079.7 L1236.4 1077.0 L1236.6 1074.3 L1236.8 1071.6 L1236.9 1068.8 L1237.1 1065.9 L1237.3 1063.0 L1237.5 1060.1 L1237.7 1057.1 L1237.9 1054.1 L1238.1 1051.0 L1238.3 1047.1 L1238.6 1043.1 L1238.8 1039.0 L1239.0 1034.9 L1239.3 1030.6 L1239.5 1026.3 L1239.8 1022.0 L1240.0 1017.6 L1240.2 1013.2 L1240.4 1008.8 L1240.7 1004.4 L1240.9 1000.0 L1241.1 995.3 L1241.4 990.5 L1241.6 985.7 L1241.8 980.8 L1242.1 975.9 L1242.3 971.0 L1242.5 966.1 L1242.7 961.3 L1243.0 956.5 L1243.2 951.8 L1243.4 947.2 L1243.6 942.7 L1243.8 938.9 L1243.9 935.2 L1244.1 931.6 L1244.3 928.1 L1244.4 924.6 L1244.6 921.1 L1244.7 917.6 L1244.9 914.2 L1245.0 910.7 L1245.2 907.2 L1245.3 903.6 L1245.5 900.0 L1245.7 896.1 L1245.8 892.2 L1246.0 888.2 L1246.2 884.3 L1246.3 880.3 L1246.5 876.2 L1246.7 872.2 L1246.8 868.2 L1247.0 864.2 L1247.2 860.3 L1247.3 856.4 L1247.5 852.5 L1247.7 848.9 L1247.8 845.3 L1248.0 841.7 L1248.1 838.1 L1248.3 834.6 L1248.4 831.0 L1248.6 827.5 L1248.7 824.0 L1248.9 820.5 L1249.0 817.0 L1249.2 813.5 L1249.3 810.0 L1249.4 806.6 L1249.6 803.3 L1249.7 800.1 L1249.9 796.9 L1250.0 793.6 L1250.1 790.4 L1250.3 787.1 L1250.4 783.8 L1250.5 780.5 L1250.7 777.1 L1250.8 773.6 L1251.0 770.0 L1251.2 765.5 L1251.4 760.8 L1251.6 756.0 L1251.8 751.1 L1252.1 746.1 L1252.3 741.1 L1252.5 736.0 L1252.7 731.0 L1253.0 726.1 L1253.2 721.3 L1253.4 716.5 L1253.6 712.0 L1253.8 708.3 L1253.9 704.6 L1254.1 701.0 L1254.2 697.5 L1254.4 694.1 L1254.5 690.6 L1254.7 687.2 L1254.9 683.8 L1255.0 680.4 L1255.2 677.0 L1255.3 673.5 L1255.5 670.0 L1255.7 666.4 L1255.9 662.7 L1256.0 659.0 L1256.2 655.2 L1256.4 651.5 L1256.6 647.8 L1256.8 644.1 L1257.0 640.4 L1257.2 636.7 L1257.4 633.1 L1257.6 629.5 L1257.8 626.0 L1258.0 622.9 L1258.2 619.8 L1258.3 616.7 L1258.5 613.6 L1258.7 610.6 L1258.9 607.6 L1259.1 604.6 L1259.2 601.6 L1259.4 598.7 L1259.6 595.8 L1259.8 592.9 L1260.0 590.0 L1260.2 587.4 L1260.4 584.8 L1260.5 582.3 L1260.7 579.8 L1260.9 577.3 L1261.1 574.8 L1261.2 572.4 L1261.4 569.9 L1261.6 567.4 L1261.8 565.0 L1262.0 562.5 L1262.2 560.0 L1262.4 557.5 L1262.6 555.0 L1262.8 552.5 L1263.0 550.0 L1263.2 547.5 L1263.4 545.0 L1263.6 542.5 L1263.9 540.0 L1264.1 537.5 L1264.3 535.0 L1264.6 532.5 L1264.8 530.0 L1265.0 527.5 L1265.3 525.0 L1265.6 522.4 L1265.8 519.9 L1266.1 517.4 L1266.4 514.8 L1266.7 512.3 L1266.9 509.8 L1267.2 507.3 L1267.5 504.9 L1267.8 502.4 L1268.1 500.0 L1268.4 497.8 L1268.6 495.6 L1268.9 493.5 L1269.2 491.3 L1269.5 489.2 L1269.8 487.1 L1270.1 485.0 L1270.4 482.9 L1270.7 480.8 L1271.0 478.6 L1271.3 476.5 L1271.6 474.4 L1271.9 472.3 L1272.2 470.1 L1272.5 467.9 L1272.9 465.8 L1273.2 463.6 L1273.5 461.4 L1273.8 459.3 L1274.2 457.1 L1274.6 455.0 L1275.0 452.9 L1275.4 450.8 L1275.9 448.7 L1276.4 446.7 L1276.9 444.7 L1277.4 442.7 L1277.9 440.8 L1278.4 438.8 L1279.0 436.9 L1279.6 434.9 L1280.2 433.0 L1280.9 431.2 L1281.6 429.3 L1282.3 427.5 L1283.1 425.8 L1283.9 424.2 L1284.7 422.6 L1285.5 421.0 L1286.3 419.5 L1287.2 417.9 L1288.1 416.4 L1289.1 415.0 L1290.0 413.6 L1291.1 412.2 L1292.2 410.9 L1293.3 409.7 L1294.5 408.6 L1295.7 407.6 L1296.8 406.6 L1298.0 405.8 L1299.2 404.9 L1300.5 404.2 L1301.8 403.5 L1303.2 402.8 L1304.6 402.2 L1306.2 401.6 L1307.9 401.0 L1309.7 400.5 L1311.7 400.0 L1316.4 399.1 L1321.8 398.6 L1327.8 398.2 L1334.4 398.1 L1341.5 398.1 L1348.8 398.3 L1356.4 398.6 L1364.2 398.9 L1372.0 399.2 L1379.7 399.5 L1387.3 399.7 L1394.6 399.9 L1402.3 400.0 L1410.0 400.2 L1417.8 400.3 L1425.6 400.5 L1433.5 400.8 L1441.5 401.0 L1449.4 401.2 L1457.4 401.5 L1465.3 401.8 L1473.3 402.0 L1481.2 402.3 L1489.1 402.5 L1497.0 402.7 L1504.9 403.0 L1512.7 403.2 L1520.6 403.5 L1528.5 403.7 L1536.4 404.0 L1544.3 404.2 L1552.2 404.5 L1560.1 404.7 L1567.9 405.0 L1575.8 405.3 L1583.7 405.5 L1591.6 405.7 L1599.5 406.0 L1607.4 406.2 L1615.3 406.5 L1623.2 406.7 L1631.1 407.0 L1639.0 407.2 L1646.9 407.5 L1654.8 407.7 L1662.6 407.9 L1670.4 408.2 L1678.2 408.4 L1685.7 408.6 L1693.2 408.9 L1700.7 409.1 L1708.2 409.3 L1715.6 409.6 L1723.1 409.8 L1730.5 410.1 L1737.9 410.3 L1745.3 410.5 L1752.7 410.7 L1760.1 410.8 L1767.5 411.0 L1774.9 411.1 L1782.2 411.2 L1789.7 411.3 L1797.1 411.3 L1804.5 411.4 L1811.9 411.4 L1819.3 411.5 L1826.6 411.5 L1833.8 411.6 L1841.0 411.6 L1848.1 411.7 L1855.0 411.8 L1861.1 411.9 L1867.1 412.1 L1872.9 412.2 L1878.7 412.4 L1884.5 412.6 L1890.2 412.8 L1895.9 413.0 L1901.6 413.2 L1907.3 413.3 L1913.1 413.4 L1919.0 413.5 L1924.9 413.6 L1931.6 413.7 L1938.7 414.0 L1946.1 414.3 L1953.8 414.6 L1961.5 415.0 L1969.0 415.2 L1976.3 415.4 L1983.2 415.3 L1989.5 415.1 L1995.1 414.6 L1999.9 413.8 L2003.6 412.7 L2004.8 412.2 L2005.8 411.6 L2006.8 411.0 L2007.6 410.3 L2008.3 409.7 L2009.0 409.0 L2009.6 408.2 L2010.1 407.4 L2010.7 406.6 L2011.2 405.8 L2011.8 404.9 L2012.4 404.0 L2013.1 402.8 L2013.8 401.6 L2014.5 400.3 L2015.2 398.9 L2015.8 397.5 L2016.4 396.1 L2016.9 394.6 L2017.5 393.0 L2018.0 391.5 L2018.5 389.8 L2018.9 388.2 L2019.4 386.5 L2020.0 384.2 L2020.5 381.8 L2020.9 379.4 L2021.3 376.8 L2021.7 374.2 L2022.0 371.5 L2022.4 368.8 L2022.7 366.0 L2023.0 363.2 L2023.2 360.5 L2023.5 357.7 L2023.8 355.0 L2024.1 352.2 L2024.4 349.4 L2024.7 346.5 L2024.9 343.7 L2025.2 340.9 L2025.4 338.0 L2025.6 335.1 L2025.8 332.2 L2026.0 329.2 L2026.1 326.2 L2026.3 323.1 L2026.4 320.0 L2026.5 316.2 L2026.6 312.2 L2026.6 308.1 L2026.6 304.0 L2026.6 299.8 L2026.6 295.6 L2026.6 291.3 L2026.5 287.1 L2026.5 282.8 L2026.4 278.5 L2026.4 274.3 L2026.4 270.1" stroke="#000080" stroke-width="5"/>
</g>
<g>
<rect x="537" y="852.3" width="123" height="5.7" fill="#000080"/>
<rect x="537" y="953.2" width="123" height="6" fill="#cc0066"/>
<rect x="537" y="1056.9" width="123" height="5.8" fill="#ff8000"/>
</g>
<g font-size="93">
<text x="726.4" y="887.6" fill="#000080" textLength="190" lengthAdjust="spacingAndGlyphs">TPO</text>
<text x="724.6" y="991.2" fill="#cc0066" textLength="334.5" lengthAdjust="spacingAndGlyphs">PEGDA</text>
<text x="724.6" y="1094" fill="#ff8000" textLength="406" lengthAdjust="spacingAndGlyphs">PCL Triol</text>
</g>
</svg>
</body></html>
